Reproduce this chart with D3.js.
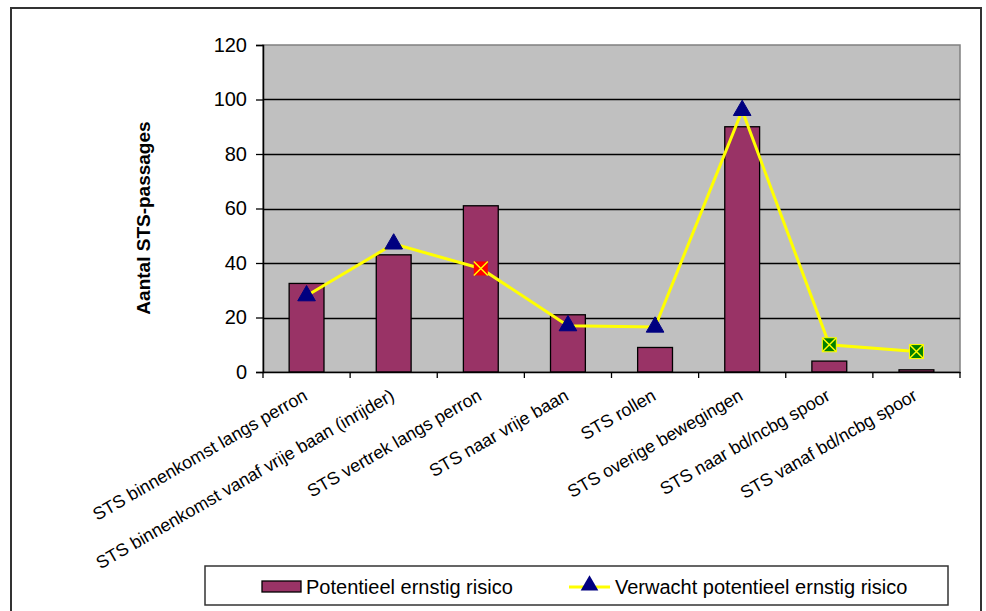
<!DOCTYPE html>
<html>
<head>
<meta charset="utf-8">
<script src="https://cdn.jsdelivr.net/npm/d3@7"></script>
<style>
  html, body { margin: 0; padding: 0; background: #fff; }
  svg { display: block; font-family: Arial, "Liberation Sans", sans-serif; }
</style>
</head>
<body>
<svg id="chart" width="986" height="611"></svg>
<script>
const categories = [
  "STS binnenkomst langs perron",
  "STS binnenkomst vanaf vrije baan (inrijder)",
  "STS vertrek langs perron",
  "STS naar vrije baan",
  "STS rollen",
  "STS overige bewegingen",
  "STS naar bd/ncbg spoor",
  "STS vanaf bd/ncbg spoor"
];
const potentieel = [32.5, 43, 61, 21, 9, 90, 4, 0.8];
const verwacht = [28, 47, 38, 17, 16.5, 96, 10, 7.5];
const markerTypes = ["tri", "tri", "xred", "tri", "tri", "tri", "xgreen", "xgreen"];
const yTicks = [0, 20, 40, 60, 80, 100, 120];
const seriesNames = ["Potentieel ernstig risico", "Verwacht potentieel ernstig risico"];
const yTitle = "Aantal STS-passages";

const svg = d3.select("#chart");
const plot = { left: 263, right: 960, top: 45, bottom: 372 };

// outer frame
svg.append("rect").attr("x", 11).attr("y", 8).attr("width", 970).attr("height", 620)
  .attr("fill", "#fff").attr("stroke", "#333").attr("stroke-width", 2);

const x = d3.scaleBand().domain(categories).range([plot.left, plot.right]).paddingInner(0).paddingOuter(0);
const y = d3.scaleLinear().domain([0, 120]).range([plot.bottom, plot.top]);

// plot background
svg.append("rect").attr("x", plot.left).attr("y", plot.top)
  .attr("width", plot.right - plot.left).attr("height", plot.bottom - plot.top)
  .attr("fill", "#C0C0C0").attr("stroke", "#808080").attr("stroke-width", 1.5);

// gridlines
svg.append("g").selectAll("line").data(yTicks.filter(d => d > 0 && d < 120)).join("line")
  .attr("x1", plot.left).attr("x2", plot.right)
  .attr("y1", d => Math.round(y(d)) + 0.5).attr("y2", d => Math.round(y(d)) + 0.5)
  .attr("stroke", "#000").attr("stroke-width", 1.4);

// bars
const bw = x.bandwidth() * 0.4;
svg.append("g").selectAll("rect").data(potentieel).join("rect")
  .attr("x", (d, i) => x(categories[i]) + (x.bandwidth() - bw) / 2)
  .attr("y", d => y(d))
  .attr("width", bw)
  .attr("height", d => y(0) - y(d))
  .attr("fill", "#993366").attr("stroke", "#000").attr("stroke-width", 1.3);

// y axis
const yAxis = d3.axisLeft(y).tickValues(yTicks).tickSize(7).tickPadding(9);
const gy = svg.append("g").attr("transform", `translate(${plot.left},0)`).call(yAxis);
gy.select(".domain").attr("stroke", "#000").attr("stroke-width", 1.5);
gy.selectAll(".tick line").attr("stroke", "#000").attr("stroke-width", 1.3);
gy.selectAll(".tick text").attr("font-size", 20).attr("fill", "#000")
  .attr("font-family", "Arial, 'Liberation Sans', sans-serif");

// x axis
const xAxis = d3.axisBottom(x).tickSize(0).tickFormat("");
const gx = svg.append("g").attr("transform", `translate(0,${plot.bottom})`).call(xAxis);
gx.select(".domain").attr("stroke", "#000").attr("stroke-width", 1.5);
// category boundary ticks
const bounds = d3.range(categories.length + 1).map(i => plot.left + i * x.bandwidth());
svg.append("g").selectAll("line").data(bounds).join("line")
  .attr("x1", d => d).attr("x2", d => d)
  .attr("y1", plot.bottom).attr("y2", plot.bottom + 6)
  .attr("stroke", "#000").attr("stroke-width", 1.3);

// x labels
svg.append("g").selectAll("text").data(categories).join("text")
  .attr("transform", d => `translate(${x(d) + x.bandwidth() / 2 + 2},${plot.bottom + 27}) rotate(-30)`)
  .attr("text-anchor", "end")
  .attr("font-size", 17.8)
  .attr("fill", "#000")
  .text(d => d);

// y title
svg.append("text")
  .attr("transform", `translate(143,218) rotate(-90)`)
  .attr("text-anchor", "middle")
  .attr("dy", "0.35em")
  .attr("font-size", 19).attr("font-weight", "bold")
  .text(yTitle);

// line
const cx = (d, i) => x(categories[i]) + x.bandwidth() / 2;
const line = d3.line().x((d, i) => cx(d, i)).y(d => y(d));
svg.append("path").datum(verwacht).attr("d", line)
  .attr("fill", "none").attr("stroke", "#FFFF00").attr("stroke-width", 3);

// markers
const tri = d3.symbol().type(d3.symbolTriangle).size(135);
const mk = svg.append("g");
verwacht.forEach((v, i) => {
  const px = cx(v, i), py = y(v);
  if (markerTypes[i] === "tri") {
    mk.append("path").attr("d", tri()).attr("transform", `translate(${px},${py})`)
      .attr("fill", "#000080").attr("stroke", "#000080").attr("stroke-width", 1);
  } else {
    const s = 7;
    mk.append("rect").attr("x", px - s).attr("y", py - s).attr("width", 2 * s).attr("height", 2 * s)
      .attr("fill", markerTypes[i] === "xred" ? "#FF0000" : "#008000");
    mk.append("path").attr("d", `M${px - s},${py - s}L${px + s},${py + s}M${px + s},${py - s}L${px - s},${py + s}`)
      .attr("stroke", "#FFFF00").attr("stroke-width", 1.5);
    if (markerTypes[i] === "xgreen") {
      mk.append("rect").attr("x", px - s).attr("y", py - s).attr("width", 2 * s).attr("height", 2 * s)
        .attr("fill", "none").attr("stroke", "#FFFF00").attr("stroke-width", 1);
    }
  }
});

// legend
const lg = svg.append("g");
lg.append("rect").attr("x", 205).attr("y", 566).attr("width", 743).attr("height", 39)
  .attr("fill", "#fff").attr("stroke", "#333").attr("stroke-width", 1.5);
lg.append("rect").attr("x", 262).attr("y", 581).attr("width", 39).attr("height", 11)
  .attr("fill", "#993366").attr("stroke", "#000").attr("stroke-width", 1.3);
lg.append("text").attr("x", 306).attr("y", 587).attr("dy", "0.35em")
  .attr("font-size", 20).text(seriesNames[0]);
lg.append("line").attr("x1", 569).attr("x2", 610).attr("y1", 587).attr("y2", 587)
  .attr("stroke", "#FFFF00").attr("stroke-width", 3);
lg.append("path").attr("d", tri()).attr("transform", "translate(589.5,585.5)").attr("fill", "#000080");
lg.append("text").attr("x", 615).attr("y", 587).attr("dy", "0.35em")
  .attr("font-size", 20).text(seriesNames[1]);
</script>
</body>
</html>
